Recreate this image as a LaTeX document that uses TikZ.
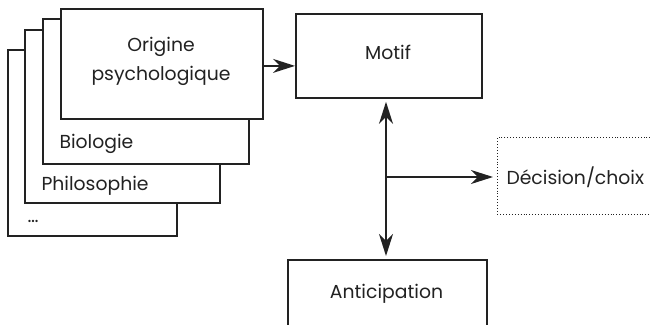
\documentclass[tikz,border=0pt]{standalone}
\usepackage{fontspec}
\setmainfont{Poppins}
\usetikzlibrary{arrows.meta}
\definecolor{ink}{HTML}{222222}
\tikzset{headtip/.tip={Stealth[length=22pt,width=14pt,inset=7pt]}}
\begin{document}
\begin{tikzpicture}[x=1pt,y=-1pt,
  every node/.style={text=ink,font=\fontsize{18.8}{29}\selectfont},
  box/.style={draw=ink,line width=1.8pt,fill=white,inner sep=0pt},
  arrow/.style={draw=ink,line width=1.6pt,-{headtip}},
  biarrow/.style={draw=ink,line width=1.6pt,{headtip}-{headtip}}]
\useasboundingbox (0,0) rectangle (650,324);
\clip (0,0) rectangle (650,324);

% stacked cards, back to front
\node[box,minimum width=169pt,minimum height=186pt,anchor=north west] (etc) at (7,49) {};
\node[anchor=base west] (etclabel) at (24,222) {\dots};
\node[box,minimum width=195pt,minimum height=173pt,anchor=north west] (philo) at (24,29) {};
\node[anchor=base west] (philolabel) at (38,190) {Philosophie};
\node[box,minimum width=206pt,minimum height=145pt,anchor=north west] (bio) at (42,18) {};
\node[anchor=base west] (biolabel) at (56,148) {Biologie};
\node[box,minimum width=202pt,minimum height=110pt,anchor=north west] (origine) at (60,8) {};
\node[align=center,anchor=base] (originelabel) at (161,80) {Origine\\psychologique};

% main boxes
\node[box,minimum width=186pt,minimum height=84pt,anchor=north west] (motif) at (295,13) {};
\node[anchor=base] (motiflabel) at (388,59) {Motif};
\node[box,minimum width=199pt,minimum height=90pt,anchor=north west] (antic) at (287,259) {};
\node[anchor=base] (anticlabel) at (386.5,298) {Anticipation};
\node[draw=ink,dotted,line width=0.9pt,minimum width=180pt,minimum height=77pt,
      anchor=north west,inner sep=0pt] (decision) at (497,137) {};
\node[anchor=base west] (decisionlabel) at (503,184) {Décision/choix};

% connectors
\coordinate (junction) at (386,177);
\draw[arrow] ([yshift=-2pt]origine.east) -- ([yshift=-2pt]origine.east -| motif.west);
\draw[biarrow,shorten <=3pt,shorten >=3pt] (motif.south -| junction) -- (antic.north -| junction);
\draw[arrow,shorten >=4pt] (junction) -- (junction -| decision.west);
\end{tikzpicture}
\end{document}
